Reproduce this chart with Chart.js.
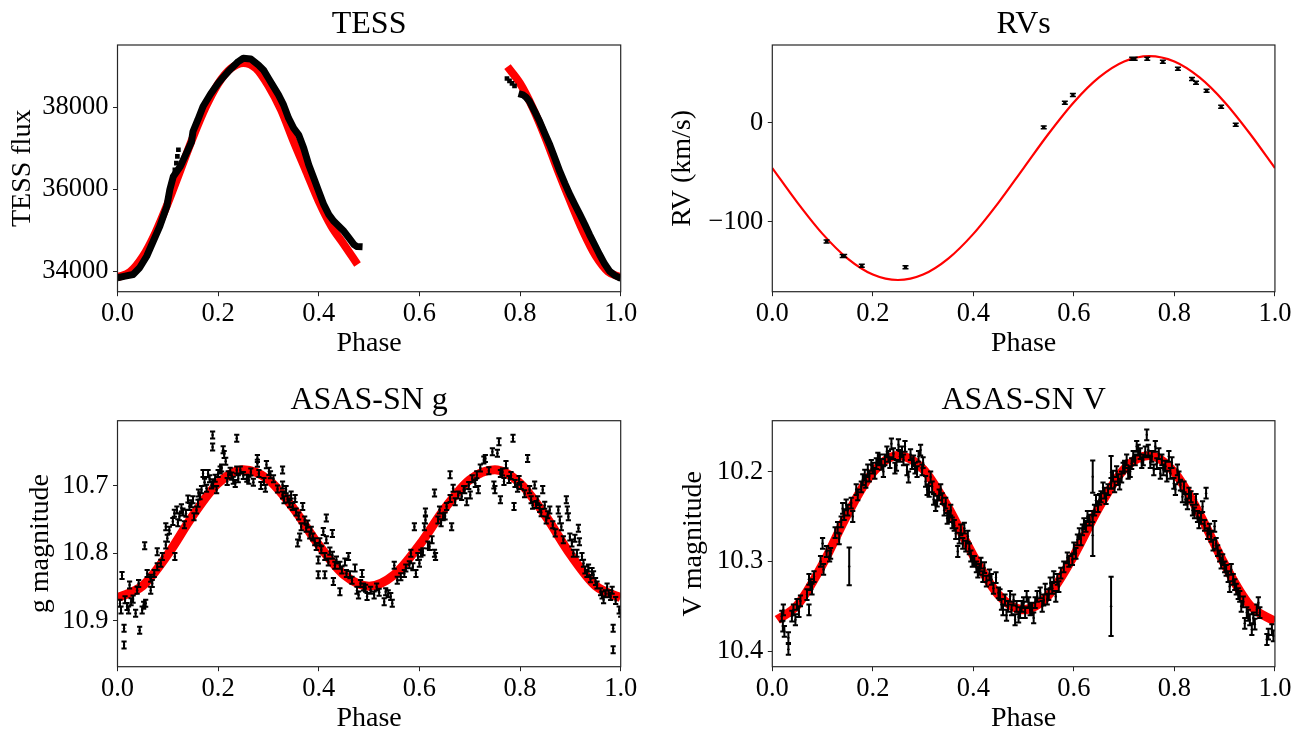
<!DOCTYPE html>
<html>
<head>
<meta charset="utf-8">
<script src="https://cdn.jsdelivr.net/npm/chart.js@4.4.0/dist/chart.umd.min.js"></script>
<style>
  html, body { margin: 0; padding: 0; background: #fff; overflow: hidden; }
  .panel { position: absolute; }
</style>
</head>
<body>
<div class="panel" style="left:0px;top:0px"><canvas id="tess" width="646" height="365"></canvas></div>
<div class="panel" style="left:646px;top:0px"><canvas id="rv" width="647" height="365"></canvas></div>
<div class="panel" style="left:0px;top:365px"><canvas id="asasg" width="646" height="375"></canvas></div>
<div class="panel" style="left:646px;top:365px"><canvas id="asasv" width="647" height="375"></canvas></div>
<script>
// ---- data ----
var phaseTicks = [0, 0.2, 0.4, 0.6, 0.8, 1.0];

// TESS light curve (phase, flux), two observed stretches
var tessObs1 = [[0,33839],[0.015,33880],[0.031,33920],[0.044,34083],[0.058,34365],[0.071,34730],[0.084,35095],
  [0.098,35582],[0.104,35988],[0.111,36311],[0.125,36560],[0.137,36880],[0.147,37150],[0.15,37406],[0.16,37700],
  [0.17,38016],[0.185,38320],[0.2,38584],[0.21,38730],[0.22,38868],[0.23,38990],[0.24,39111],[0.25,39192],
  [0.265,39175],[0.28,39030],[0.29,38908],[0.3,38705],[0.31,38501],[0.32,38299],[0.33,38056],[0.34,37732],
  [0.35,37489],[0.36,37326],[0.37,37002],[0.38,36596],[0.39,36272],[0.4,35946],[0.41,35623],[0.42,35380],
  [0.43,35217],[0.44,35095],[0.45,34973],[0.46,34813],[0.47,34650],[0.476,34600],[0.487,34594]];
var tessObs2 = [[0.797,38330],[0.806,38300],[0.812,38240],[0.819,38136],[0.829,37900],[0.839,37650],[0.849,37360],
  [0.859,37083],[0.869,36760],[0.879,36433],[0.889,36140],[0.899,35866],[0.909,35620],[0.919,35380],[0.929,35130],
  [0.938,34893],[0.948,34650],[0.958,34407],[0.968,34180],[0.978,34000],[0.988,33900],[0.998,33839],[1.0,33835]];
var tessLoose = [[0.114,36474],[0.117,36637],[0.119,36798],[0.121,36961],
  [0.774,38700],[0.779,38640],[0.784,38580],[0.789,38520]];
var tessModel1 = [[0,33854],[0.025,33982],[0.05,34352],[0.075,34929],[0.1,35656],[0.125,36462],[0.15,37268],
  [0.175,37995],[0.2,38572],[0.225,38942],[0.25,39080],[0.275,38949],[0.3,38520],[0.325,37934],[0.35,37163],
  [0.375,36433],[0.4,35703],[0.425,35095],[0.45,34650],[0.477,34163]];
var tessModel2 = [[0.775,38988],[0.8,38580],[0.825,37990],[0.85,37268],[0.875,36462],[0.9,35700],[0.925,34980],
  [0.95,34380],[0.975,33990],[1.0,33850]];
var tessTicks = [34000, 36000, 38000];

// radial velocities (phase, km/s)
var rvObs = [[0.108,-119.9],[0.140,-134.7],[0.143,-134.7],[0.178,-144.4],[0.265,-146.1],[0.540,-4.7],
  [0.582,20.2],[0.598,27.9],[0.716,64.6],[0.721,64.6],[0.746,64.6],[0.777,61.6],[0.807,54.5],[0.835,44.1],
  [0.843,40.4],[0.864,32.3],[0.893,16.2],[0.922,-2.0]];
var rvModel = [[0,-45.8],[0.05,-80.7],[0.1,-112.3],[0.15,-137.3],[0.2,-153.4],[0.25,-158.9],[0.3,-153.4],
  [0.35,-137.3],[0.4,-112.3],[0.45,-80.7],[0.5,-45.8],[0.55,-10.9],[0.6,20.7],[0.65,45.7],[0.7,61.8],
  [0.75,67.3],[0.8,61.8],[0.85,45.7],[0.9,20.7],[0.95,-10.9],[1.0,-45.8]];
var rvErr = 1.5;
var rvTicks = [-100, 0];

// ASAS-SN g (phase, mag)
var gObs = [[0.005,10.874],[0.007,10.884],[0.009,10.833],[0.013,10.911],[0.013,10.936],[0.015,10.869],[0.019,10.879],
  [0.022,10.884],[0.024,10.847],[0.027,10.872],[0.031,10.868],[0.036,10.889],[0.039,10.855],[0.042,10.845],
  [0.044,10.914],[0.049,10.884],[0.052,10.877],[0.054,10.789],[0.056,10.874],[0.059,10.830],[0.066,10.837],
  [0.066,10.855],[0.069,10.845],[0.073,10.830],[0.079,10.820],[0.079,10.798],[0.086,10.815],[0.089,10.805],
  [0.096,10.788],[0.096,10.761],[0.099,10.778],[0.103,10.766],[0.110,10.753],[0.114,10.805],[0.113,10.741],
  [0.118,10.736],[0.120,10.755],[0.123,10.746],[0.127,10.733],[0.130,10.739],[0.133,10.758],[0.136,10.741],
  [0.140,10.720],[0.143,10.731],[0.147,10.727],[0.150,10.721],[0.152,10.746],[0.157,10.736],[0.160,10.726],
  [0.161,10.711],[0.164,10.715],[0.167,10.706],[0.170,10.682],[0.173,10.695],[0.177,10.704],[0.180,10.682],
  [0.183,10.690],[0.187,10.699],[0.189,10.625],[0.189,10.643],[0.190,10.696],[0.194,10.689],[0.197,10.706],
  [0.200,10.682],[0.204,10.677],[0.207,10.674],[0.210,10.647],[0.212,10.654],[0.215,10.664],[0.218,10.694],
  [0.220,10.684],[0.224,10.679],[0.227,10.686],[0.230,10.692],[0.234,10.697],[0.237,10.630],[0.237,10.677],
  [0.240,10.690],[0.244,10.677],[0.250,10.685],[0.257,10.689],[0.261,10.692],[0.265,10.680],[0.270,10.695],
  [0.278,10.660],[0.278,10.667],[0.281,10.682],[0.285,10.700],[0.291,10.694],[0.294,10.704],[0.296,10.669],
  [0.301,10.679],[0.304,10.684],[0.310,10.690],[0.318,10.705],[0.328,10.677],[0.328,10.699],[0.328,10.714],
  [0.331,10.721],[0.335,10.706],[0.338,10.720],[0.342,10.727],[0.345,10.714],[0.348,10.731],[0.353,10.719],
  [0.355,10.739],[0.358,10.785],[0.360,10.745],[0.362,10.776],[0.365,10.761],[0.368,10.731],[0.372,10.751],
  [0.375,10.763],[0.378,10.757],[0.382,10.773],[0.385,10.766],[0.388,10.776],[0.392,10.783],[0.395,10.790],
  [0.399,10.810],[0.399,10.832],[0.402,10.783],[0.405,10.795],[0.409,10.768],[0.412,10.805],[0.412,10.832],
  [0.415,10.748],[0.415,10.780],[0.419,10.813],[0.422,10.797],[0.427,10.771],[0.427,10.803],[0.429,10.842],
  [0.432,10.818],[0.435,10.810],[0.442,10.818],[0.442,10.857],[0.446,10.825],[0.452,10.813],[0.455,10.830],
  [0.459,10.805],[0.462,10.832],[0.466,10.840],[0.472,10.822],[0.476,10.855],[0.479,10.862],[0.483,10.845],
  [0.486,10.830],[0.489,10.850],[0.493,10.852],[0.496,10.864],[0.503,10.855],[0.510,10.862],[0.515,10.850],
  [0.520,10.858],[0.530,10.872],[0.533,10.857],[0.538,10.860],[0.543,10.864],[0.546,10.874],[0.550,10.818],
  [0.556,10.840],[0.563,10.835],[0.570,10.830],[0.573,10.822],[0.580,10.817],[0.583,10.800],[0.587,10.820],
  [0.590,10.761],[0.593,10.830],[0.597,10.805],[0.600,10.815],[0.603,10.800],[0.607,10.798],[0.610,10.761],
  [0.612,10.739],[0.612,10.751],[0.617,10.788],[0.620,10.790],[0.625,10.780],[0.630,10.800],[0.630,10.711],
  [0.632,10.805],[0.637,10.751],[0.640,10.736],[0.643,10.755],[0.647,10.746],[0.651,10.745],[0.654,10.731],
  [0.661,10.684],[0.661,10.719],[0.664,10.761],[0.667,10.704],[0.671,10.724],[0.677,10.714],[0.684,10.716],
  [0.688,10.706],[0.690,10.706],[0.694,10.724],[0.698,10.700],[0.701,10.714],[0.705,10.690],[0.711,10.697],
  [0.714,10.684],[0.717,10.706],[0.721,10.674],[0.728,10.662],[0.731,10.660],[0.738,10.678],[0.745,10.650],
  [0.748,10.699],[0.750,10.706],[0.755,10.652],[0.758,10.635],[0.761,10.721],[0.761,10.682],[0.765,10.680],
  [0.768,10.694],[0.772,10.669],[0.778,10.691],[0.782,10.685],[0.786,10.630],[0.788,10.731],[0.790,10.697],
  [0.795,10.704],[0.798,10.691],[0.802,10.700],[0.809,10.712],[0.815,10.660],[0.819,10.706],[0.822,10.721],
  [0.825,10.729],[0.829,10.699],[0.832,10.728],[0.835,10.721],[0.839,10.734],[0.842,10.740],[0.845,10.706],
  [0.849,10.729],[0.852,10.751],[0.855,10.743],[0.859,10.736],[0.865,10.758],[0.870,10.770],[0.876,10.736],
  [0.879,10.751],[0.882,10.761],[0.886,10.780],[0.892,10.721],[0.894,10.736],[0.896,10.746],[0.899,10.776],
  [0.903,10.785],[0.906,10.800],[0.909,10.778],[0.913,10.800],[0.916,10.763],[0.918,10.783],[0.923,10.805],
  [0.926,10.815],[0.929,10.825],[0.933,10.830],[0.936,10.822],[0.940,10.838],[0.943,10.827],[0.946,10.832],
  [0.950,10.842],[0.953,10.847],[0.960,10.857],[0.963,10.862],[0.966,10.869],[0.970,10.860],[0.973,10.850],
  [0.976,10.860],[0.980,10.864],[0.983,10.855],[0.985,10.911],[0.985,10.943],[0.990,10.870],[0.997,10.884],
  [1.000,10.889]];
var gModel = [[0,10.8658],[0.05,10.8482],[0.1,10.8018],[0.15,10.7441],[0.2,10.6965],[0.25,10.6767],[0.3,10.6913],
  [0.35,10.7341],[0.4,10.788],[0.45,10.832],[0.5,10.8488],[0.55,10.832],[0.6,10.788],[0.65,10.7341],[0.7,10.6913],
  [0.75,10.6767],[0.8,10.6965],[0.85,10.7441],[0.9,10.8018],[0.95,10.8482],[1.0,10.8658]];
var gErr = 0.0052;
var gTicks = [10.7, 10.8, 10.9];

// ASAS-SN V (phase, mag); the last few points carry their own larger error
var vObs = [[0.019,10.361],[0.021,10.372],[0.022,10.354],[0.024,10.378],[0.032,10.385],[0.032,10.398],[0.039,10.361],
  [0.042,10.354],[0.046,10.365],[0.049,10.348],[0.053,10.356],[0.056,10.344],[0.069,10.337],[0.073,10.320],
  [0.073,10.354],[0.076,10.326],[0.079,10.331],[0.083,10.317],[0.096,10.300],[0.100,10.280],[0.102,10.309],
  [0.108,10.289],[0.114,10.294],[0.116,10.291],[0.125,10.268],[0.130,10.262],[0.133,10.275],[0.137,10.256],
  [0.140,10.241],[0.143,10.248],[0.147,10.237],[0.150,10.243],[0.157,10.235],[0.160,10.250],[0.167,10.220],
  [0.170,10.226],[0.177,10.217],[0.180,10.209],[0.184,10.204],[0.186,10.212],[0.190,10.198],[0.193,10.205],
  [0.197,10.193],[0.200,10.196],[0.204,10.202],[0.207,10.191],[0.210,10.185],[0.214,10.187],[0.217,10.192],
  [0.221,10.200],[0.224,10.187],[0.228,10.178],[0.231,10.183],[0.234,10.190],[0.237,10.169],[0.241,10.180],
  [0.244,10.196],[0.247,10.193],[0.251,10.170],[0.254,10.183],[0.258,10.178],[0.261,10.187],[0.264,10.172],
  [0.268,10.198],[0.271,10.206],[0.275,10.181],[0.278,10.191],[0.281,10.188],[0.284,10.196],[0.288,10.200],
  [0.291,10.183],[0.295,10.176],[0.298,10.198],[0.300,10.190],[0.305,10.211],[0.308,10.220],[0.312,10.222],
  [0.315,10.206],[0.318,10.217],[0.321,10.231],[0.325,10.238],[0.328,10.233],[0.332,10.226],[0.335,10.220],
  [0.338,10.230],[0.342,10.243],[0.345,10.235],[0.348,10.252],[0.352,10.250],[0.355,10.243],[0.358,10.257],
  [0.362,10.260],[0.365,10.269],[0.369,10.289],[0.372,10.274],[0.375,10.265],[0.379,10.280],[0.382,10.263],
  [0.385,10.283],[0.389,10.272],[0.392,10.286],[0.395,10.294],[0.398,10.300],[0.402,10.300],[0.406,10.306],
  [0.409,10.312],[0.412,10.309],[0.415,10.302],[0.419,10.317],[0.422,10.307],[0.426,10.322],[0.432,10.315],
  [0.436,10.320],[0.440,10.330],[0.445,10.318],[0.450,10.335],[0.453,10.337],[0.456,10.348],[0.459,10.354],
  [0.463,10.343],[0.466,10.360],[0.469,10.350],[0.473,10.339],[0.476,10.354],[0.480,10.343],[0.483,10.365],
  [0.486,10.350],[0.490,10.362],[0.493,10.357],[0.496,10.350],[0.500,10.346],[0.503,10.357],[0.506,10.339],
  [0.510,10.346],[0.513,10.354],[0.517,10.352],[0.520,10.363],[0.523,10.346],[0.527,10.339],[0.533,10.335],
  [0.537,10.350],[0.540,10.343],[0.543,10.331],[0.547,10.342],[0.550,10.337],[0.553,10.324],[0.557,10.330],
  [0.560,10.317],[0.564,10.339],[0.567,10.320],[0.570,10.328],[0.574,10.313],[0.580,10.306],[0.587,10.296],
  [0.590,10.300],[0.597,10.298],[0.600,10.285],[0.604,10.291],[0.607,10.276],[0.611,10.269],[0.614,10.276],
  [0.617,10.265],[0.620,10.258],[0.624,10.261],[0.627,10.250],[0.631,10.254],[0.637,10.250],[0.641,10.243],
  [0.644,10.232],[0.648,10.239],[0.651,10.231],[0.654,10.228],[0.658,10.218],[0.661,10.224],[0.664,10.230],
  [0.668,10.220],[0.674,10.213],[0.678,10.205],[0.681,10.217],[0.685,10.200],[0.688,10.209],[0.691,10.214],
  [0.695,10.206],[0.698,10.196],[0.701,10.194],[0.705,10.187],[0.708,10.202],[0.712,10.200],[0.715,10.191],
  [0.718,10.183],[0.722,10.187],[0.725,10.172],[0.728,10.176],[0.732,10.180],[0.735,10.190],[0.738,10.187],
  [0.742,10.178],[0.745,10.159],[0.748,10.176],[0.752,10.190],[0.755,10.183],[0.759,10.198],[0.762,10.172],
  [0.765,10.191],[0.769,10.180],[0.772,10.202],[0.775,10.187],[0.778,10.198],[0.782,10.194],[0.785,10.205],
  [0.789,10.183],[0.792,10.202],[0.795,10.190],[0.799,10.213],[0.802,10.220],[0.806,10.198],[0.809,10.206],
  [0.812,10.215],[0.816,10.228],[0.819,10.217],[0.822,10.231],[0.826,10.236],[0.829,10.224],[0.833,10.228],
  [0.836,10.243],[0.840,10.246],[0.843,10.231],[0.846,10.250],[0.849,10.257],[0.853,10.252],[0.856,10.239],
  [0.860,10.260],[0.863,10.224],[0.866,10.269],[0.870,10.264],[0.873,10.272],[0.877,10.282],[0.880,10.261],
  [0.883,10.280],[0.886,10.288],[0.890,10.294],[0.893,10.302],[0.896,10.298],[0.900,10.306],[0.903,10.310],
  [0.907,10.317],[0.910,10.328],[0.913,10.309],[0.917,10.320],[0.920,10.326],[0.923,10.331],[0.927,10.336],
  [0.930,10.339],[0.933,10.350],[0.937,10.345],[0.940,10.369],[0.944,10.357],[0.947,10.360],[0.950,10.365],
  [0.954,10.376],[0.957,10.363],[0.960,10.370],[0.964,10.354],[0.967,10.346],[0.970,10.357],[0.984,10.387],
  [0.987,10.381],[0.994,10.376],[0.997,10.383],
  [0.153,10.3056,0.021],[0.6375,10.2056,0.018],[0.6375,10.271,0.023],[0.674,10.2006,0.018],[0.674,10.35,0.033]];
var vModel = [[0.01,10.365],[0.05,10.3487],[0.1,10.3034],[0.15,10.247],[0.2,10.2009],[0.25,10.182],[0.3,10.1971],
  [0.35,10.24],[0.4,10.2936],[0.45,10.3373],[0.5,10.354],[0.55,10.3373],[0.6,10.2936],[0.65,10.24],[0.7,10.1971],
  [0.75,10.182],[0.8,10.2009],[0.85,10.247],[0.9,10.3034],[0.95,10.3487],[1.0,10.367]];
var vErr = 0.006;
var vTicks = [10.2, 10.3, 10.4];

// ---- drawing ----
Chart.defaults.font.family = "'Liberation Serif', 'DejaVu Serif', serif";
Chart.defaults.color = '#000';

function pts(arr) {
  return arr.map(function(p) { return { x: p[0], y: p[1], e: p[2] }; });
}

// vertical error bars with caps, drawn just under each observed series
var errorBars = {
  id: 'errorBars',
  beforeDatasetDraw: function(chart, args) {
    var ds = chart.data.datasets[args.index];
    if (!ds.errBar) return;
    var ctx = chart.ctx, a = chart.chartArea;
    var xs = chart.scales.x, ys = chart.scales.y;
    ctx.save();
    ctx.beginPath();
    ctx.rect(a.left, a.top, a.right - a.left, a.bottom - a.top);
    ctx.clip();
    ctx.strokeStyle = '#000';
    ctx.lineWidth = ds.errBar.width;
    ctx.beginPath();
    ds.data.forEach(function(p) {
      var e = p.e || ds.errBar.size;
      var x = xs.getPixelForValue(p.x);
      var y1 = ys.getPixelForValue(p.y - e), y2 = ys.getPixelForValue(p.y + e);
      var c = ds.errBar.cap;
      ctx.moveTo(x, y1); ctx.lineTo(x, y2);
      ctx.moveTo(x - c, y1); ctx.lineTo(x + c, y1);
      ctx.moveTo(x - c, y2); ctx.lineTo(x + c, y2);
    });
    ctx.stroke();
    ctx.restore();
  }
};

// full box around the axes
var frame = {
  id: 'frame',
  afterDraw: function(chart) {
    var ctx = chart.ctx, a = chart.chartArea;
    ctx.save();
    ctx.strokeStyle = '#262626';
    ctx.lineWidth = 1.2;
    ctx.strokeRect(a.left, a.top, a.right - a.left, a.bottom - a.top);
    ctx.restore();
  }
};

function modelLine(data, width) {
  return { data: pts(data), showLine: true, borderColor: '#ff0000', borderWidth: width, pointRadius: 0,
    cubicInterpolationMode: 'monotone', order: 2, clip: 0 };
}

function obsPoints(data, size, cap, radius) {
  return { data: pts(data), showLine: false, pointRadius: radius, pointBackgroundColor: '#000',
    pointBorderWidth: 0, errBar: { size: size, cap: cap, width: 2 }, order: 0, clip: 0 };
}

function makeChart(id, cfg) {
  var ctx = document.getElementById(id).getContext('2d');
  return new Chart(ctx, {
    type: 'scatter',
    data: { datasets: cfg.datasets },
    options: {
      responsive: false,
      animation: false,
      devicePixelRatio: 1,
      events: [],
      layout: { padding: { left: 0, right: cfg.padRight, top: 0, bottom: 0 } },
      plugins: {
        legend: { display: false },
        tooltip: { enabled: false },
        title: {
          display: true, text: cfg.title, fullSize: false, color: '#000',
          font: { size: 32, weight: 'normal' },
          padding: { top: cfg.titleTop, bottom: 1.1 }
        }
      },
      scales: {
        x: {
          type: 'linear', min: 0, max: 1,
          afterBuildTicks: function(s) { s.ticks = phaseTicks.map(function(v) { return { value: v }; }); },
          afterFit: function(s) { s.height = 73.3; },
          ticks: { callback: function(v) { return v.toFixed(1); }, color: '#000', font: { size: 26.5 },
            padding: 1.5, maxRotation: 0, autoSkip: false },
          grid: { drawOnChartArea: false, tickLength: 4.5, color: '#222', lineWidth: 1 },
          border: { display: false },
          title: { display: true, text: 'Phase', color: '#000', font: { size: 28 }, padding: { top: 0, bottom: 4.5 } }
        },
        y: {
          type: 'linear', min: cfg.yMin, max: cfg.yMax, reverse: !!cfg.reverse,
          afterBuildTicks: function(s) { s.ticks = cfg.yTicks.map(function(v) { return { value: v }; }); },
          afterFit: function(s) { s.width = cfg.yWidth; },
          ticks: { callback: cfg.yFmt, color: '#000', font: { size: 26.5 }, padding: 4.5, autoSkip: false },
          grid: { drawOnChartArea: false, tickLength: 4.5, color: '#222', lineWidth: 1 },
          border: { display: false },
          title: { display: true, text: cfg.yTitle, color: '#000', font: { size: 28 },
            padding: { top: cfg.yTitlePad, bottom: 0 } }
        }
      }
    },
    plugins: [errorBars, frame]
  });
}

makeChart('tess', {
  title: 'TESS', yTitle: 'TESS flux', yMin: 33500, yMax: 39516, yTicks: tessTicks,
  yFmt: function(v) { return String(v); },
  yWidth: 117.5, padRight: 25.3, titleTop: 5.5, yTitlePad: 6.2,
  datasets: [
    { data: pts(tessLoose), showLine: false, pointStyle: 'rect', pointRadius: 3.3, pointBackgroundColor: '#000',
      pointBorderWidth: 0, order: 0, clip: 0 },
    { data: pts(tessObs1), showLine: true, borderColor: '#000', borderWidth: 7, borderJoinStyle: 'round',
      pointRadius: 0, order: 1, clip: 0 },
    { data: pts(tessObs2), showLine: true, borderColor: '#000', borderWidth: 7, borderJoinStyle: 'round',
      pointRadius: 0, order: 1, clip: 0 },
    modelLine(tessModel1, 8),
    modelLine(tessModel2, 8)
  ]
});

makeChart('rv', {
  title: 'RVs', yTitle: 'RV (km/s)', yMin: -170.7, yMax: 78.5, yTicks: rvTicks,
  yFmt: function(v) { return v < 0 ? '\u2212' + Math.abs(v) : String(v); },
  yWidth: 126.3, padRight: 17.2, titleTop: 5.5, yTitlePad: 20.2,
  datasets: [
    { data: pts(rvObs), showLine: false, pointStyle: 'rect', pointRadius: 2.4, pointBackgroundColor: '#000',
      pointBorderWidth: 0, errBar: { size: rvErr, cap: 3, width: 1.5 }, order: 0, clip: 0 },
    modelLine(rvModel, 2.2)
  ]
});

makeChart('asasg', {
  title: 'ASAS-SN g', yTitle: 'g magnitude', yMin: 10.604, yMax: 10.968, reverse: true, yTicks: gTicks,
  yFmt: function(v) { return v.toFixed(1); },
  yWidth: 117.5, padRight: 25.3, titleTop: 16.2, yTitlePad: 23.7,
  datasets: [
    obsPoints(gObs, gErr, 2.6, 1.2),
    modelLine(gModel, 9)
  ]
});

makeChart('asasv', {
  title: 'ASAS-SN V', yTitle: 'V magnitude', yMin: 10.1433, yMax: 10.4173, reverse: true, yTicks: vTicks,
  yFmt: function(v) { return v.toFixed(1); },
  yWidth: 126.3, padRight: 17.2, titleTop: 16.2, yTitlePad: 31,
  datasets: [
    obsPoints(vObs, vErr, 2.6, 1.2),
    modelLine(vModel, 9)
  ]
});
</script>
</body>
</html>
